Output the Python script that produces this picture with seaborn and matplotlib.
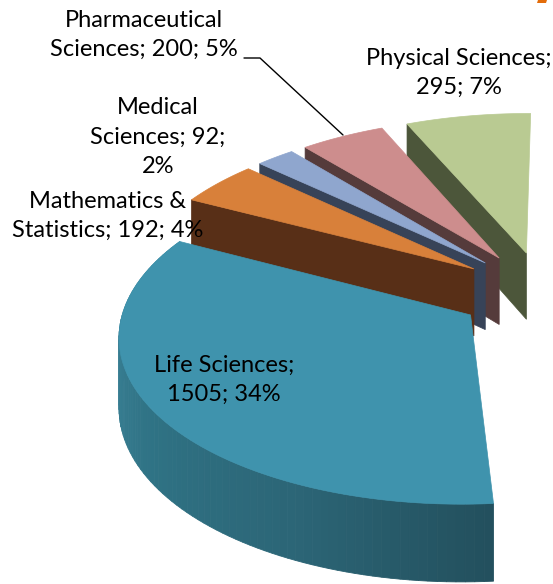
import numpy as np
import matplotlib
matplotlib.use("Agg")
import matplotlib.pyplot as plt
import seaborn as sns

sns.set_theme(style="white")
plt.rcParams['font.family'] = ['Lato', 'DejaVu Sans']

# Data (rest of the pie is cropped out of the picture)
categories = ['Physical Sciences', 'Pharmaceutical Sciences', 'Medical Sciences',
              'Mathematics & Statistics', 'Life Sciences']
values = [295, 200, 92, 192, 1505]
percents = [7, 5, 2, 4, 34]
total = 4440

top_colors = ['#B9CA92', '#CD8D8D', '#8FA6CE', '#D8803A', '#3F93AD']
wall_colors = ['#4C563A', '#553B3B', '#374358', '#582F17', '#3F8BA0']
life_wall = ['#3F8DA3', '#3A8196', '#2F7284', '#2C6677', '#23505E']

# Fake 3D camera, pixel units
cx, cy = 543, 292
ax_scale, ay_scale = 343, 163
persp = 0.11
depth = 68
explode = 0.25
start_angle = -0.5


def project(X, Y, z=0.0):
    w = 1 + persp * Y
    return cx + ax_scale * X / w, cy - ay_scale * Y / w + depth * z / w


def direction(theta):
    t = np.radians(theta)
    return -np.sin(t), np.cos(t)


fig = plt.figure(figsize=(5.53, 5.84), dpi=100)
ax = fig.add_axes([0, 0, 1, 1])
ax.set_xlim(0, 553)
ax.set_ylim(584, 0)
ax.axis('off')

angle = start_angle
for i, val in enumerate(values):
    a0 = angle
    a1 = angle + val / total * 360
    angle = a1
    ox, oy = direction((a0 + a1) / 2)
    ox, oy = ox * explode, oy * explode

    thetas = np.linspace(a0, a1, 90)
    dx, dy = direction(thetas)
    rim_X, rim_Y = ox + dx, oy + dy

    # radial wall on the far (left) edge
    ex, ey = direction(a1)
    wall = [project(ox, oy), project(ox + ex, oy + ey),
            project(ox + ex, oy + ey, 1), project(ox, oy, 1)]
    if i < 4:
        ax.fill(*zip(*wall), color=wall_colors[i], lw=0.5, zorder=i * 3 + 1)

    # outer wall, shaded by angle
    if i == 4:
        n = len(thetas) - 1
        shades = sns.blend_palette(life_wall, n)
        for j in range(n):
            quad = [project(rim_X[j], rim_Y[j]), project(rim_X[j + 1], rim_Y[j + 1]),
                    project(rim_X[j + 1], rim_Y[j + 1], 1), project(rim_X[j], rim_Y[j], 1)]
            ax.fill(*zip(*quad), color=shades[j], lw=0.6, zorder=i * 3 + 1)

    top_x, top_y = project(np.r_[ox, rim_X], np.r_[oy, rim_Y])
    ax.fill(top_x, top_y, color=top_colors[i], lw=0.5, zorder=i * 3 + 2)

# Labels
fs = 17
text_kw = dict(fontsize=fs, ha='center', va='center', color='black', linespacing=1.5, zorder=30)
ax.text(144, 35, "Pharmaceutical\nSciences; 200; 5%", **text_kw)
ax.text(459, 73, "Physical Sciences;\n295; 7%", **text_kw)
ax.text(158, 137, "Medical\nSciences; 92;\n2%", **text_kw)
ax.text(108, 216, "Mathematics &\nStatistics; 192; 4%", **text_kw)
ax.text(224, 380, "Life Sciences;\n1505; 34%", **text_kw)

# Leader line and the orange mark in the corner
ax.plot([244, 260, 343], [58, 58, 135], color='black', lw=1.0, zorder=29)
ax.fill([538, 547, 546, 537], [0, 0, 3, 3], color='#E36C0A', lw=0, zorder=29)

fig.savefig("out.png", dpi=100)
